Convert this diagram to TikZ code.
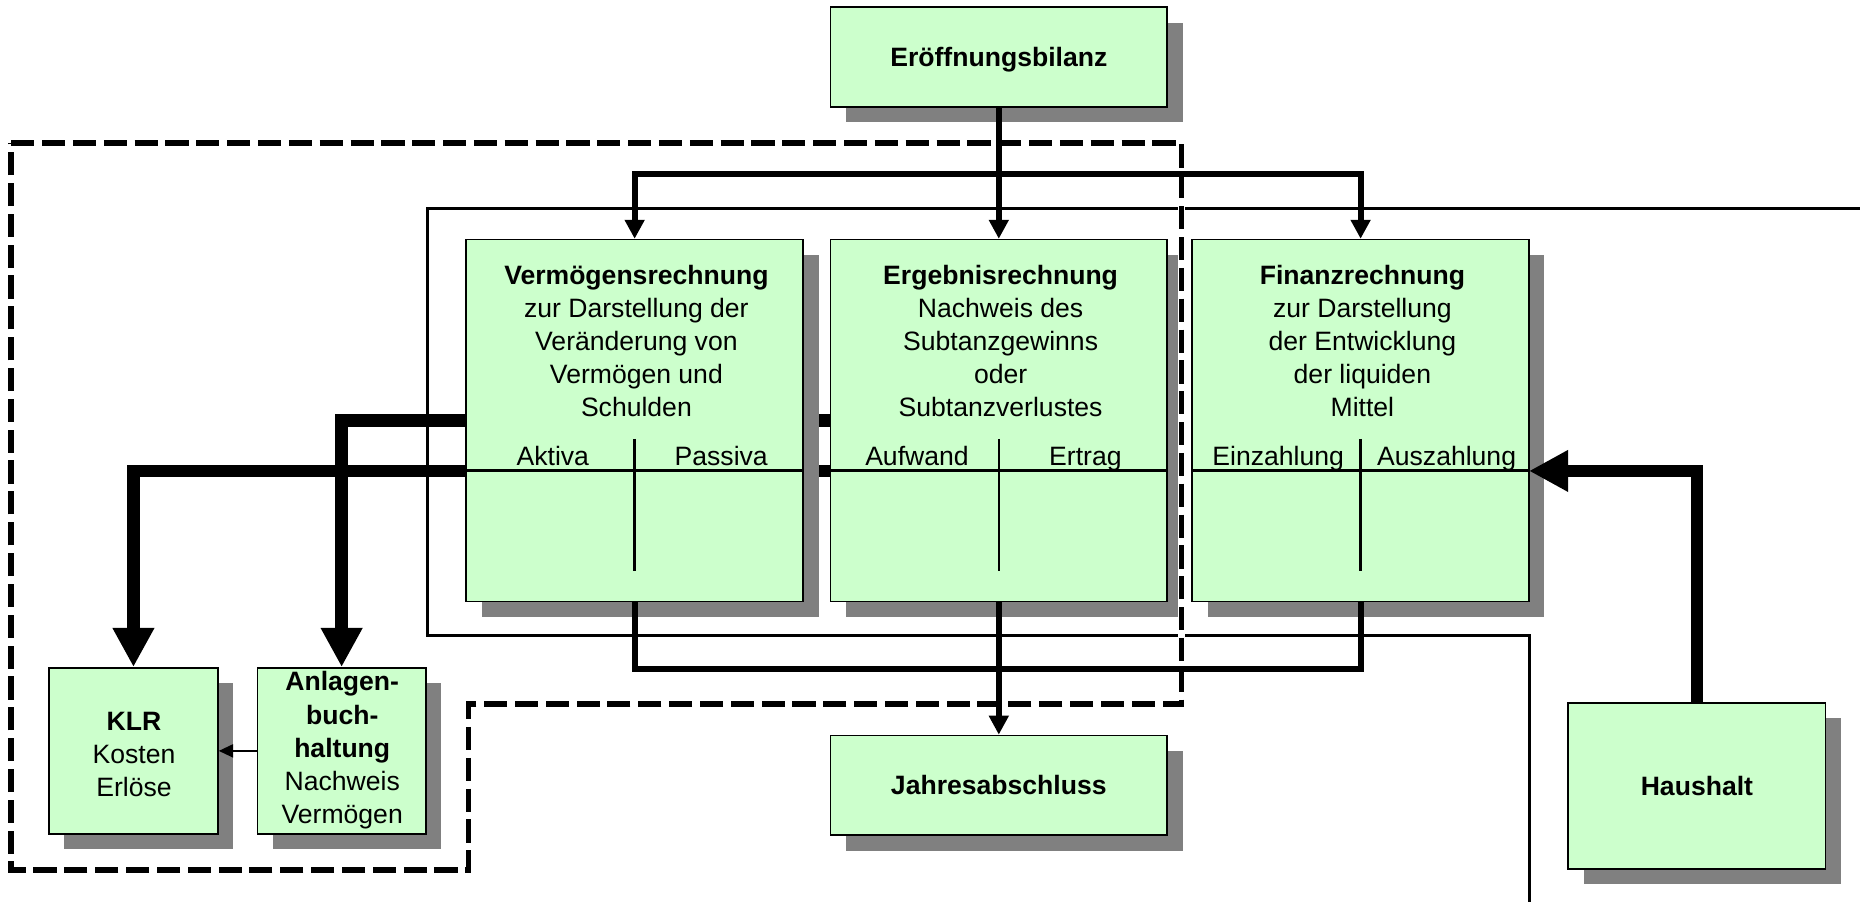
\documentclass[tikz,border=0pt]{standalone}
\usepackage{fontspec}
\setmainfont{Liberation Sans}
\usetikzlibrary{arrows.meta,shadows,backgrounds}
\definecolor{boxgreen}{HTML}{CCFFCC}
\definecolor{shadowgray}{HTML}{808080}
\newcommand{\firststrut}{\rule{0pt}{16pt}}
\begin{document}
\begin{tikzpicture}[x=1pt,y=-1pt,
  box/.style={draw, line width=1.4pt, fill=boxgreen, inner sep=0pt,
    drop shadow={shadow xshift=13pt,shadow yshift=-13pt,fill=shadowgray,opacity=1}},
  boxtxt/.style={font=\fontsize{22.4}{28}\selectfont\bfseries, text height=16pt, text depth=0pt},
  txt/.style={inner sep=0pt, align=center, font=\fontsize{22.4}{28}\selectfont, anchor=north},
  lbl/.style={inner sep=0pt, font=\fontsize{22.4}{28}\selectfont, anchor=base},
  med/.style={line width=5pt},
  fat/.style={line width=10.5pt},
  smalltip/.style={-{Triangle[length=16pt,width=16pt]}},
  bigtip/.style={-{Triangle[length=33pt,width=33pt]}},
  minitip/.style={-{Triangle[length=12pt,width=11pt]}},
  dashline/.style={line width=4.8pt, dash pattern=on 19.5pt off 6.5pt,
    preaction={draw=white, solid, line width=5.2pt}},
  tline/.style={line width=2.6pt},
  divline/.style={line width=2.2pt},
  frameline/.style={line width=2.6pt}]
\useasboundingbox (0,0) rectangle (1568,760);

% boxes
\node[box, boxtxt, minimum width=284pt, minimum height=84pt] (eb) at (842,48) {Eröffnungsbilanz};
\node[box, minimum width=284pt, minimum height=305pt] (vr) at (535,354.5) {};
\node[box, minimum width=284pt, minimum height=305pt] (er) at (842,354.5) {};
\node[box, minimum width=284pt, minimum height=305pt] (fr) at (1147,354.5) {};
\node[box, boxtxt, minimum width=284pt, minimum height=84pt] (ja) at (842,662) {Jahresabschluss};
\node[box, boxtxt, minimum width=217pt, minimum height=140pt] (hh) at (1430.5,662.5) {Haushalt};
\node[box, minimum width=142.5pt, minimum height=140pt] (klr) at (112.5,633) {};
\node[box, minimum width=142pt, minimum height=140pt] (ab) at (288,633) {};

\coordinate (fe) at (1289,397);
\coordinate (jt) at (842,146.5);
\coordinate (jb) at (842,564);

% thick connectors behind the boxes
\begin{scope}[on background layer]
\draw[fat,bigtip] (er.west) -| (ab.north);
\draw[fat,bigtip] (er.west |- fe) -| (klr.north);
\end{scope}

% thin frame
\draw[frameline] (1580,175.5) -- (360,175.5) -- (360,536) -- (1289,536) -- (1289,772);

% dashed frame
\draw[dashline] (9.5,120.3) -- (996,120.3) -- (996,593.3) -- (395,593.3) -- (395,733.5) -- (9.5,733.5) -- cycle;

% connectors
\draw[med,smalltip] (eb.south) -- (er.north);
\draw[med,smalltip] (jt) -| (vr.north);
\draw[med,smalltip] (jt) -| (fr.north);
\draw[med] (vr.south) -- (vr.south |- jb) -- (fr.south |- jb) -- (fr.south);
\draw[med,smalltip] (er.south) -- (ja.north);
\draw[fat,bigtip] (hh.north) |- (fe);
\draw[line width=1.4pt,minitip] (ab.west) -- (klr.east);

% table lines
\foreach \b in {vr,er,fr}{
  \draw[tline] (\b.west |- fe) -- (\b.east |- fe);
  \draw[divline] (\b.center |- 0,370) -- (\b.center |- 0,481);
}

% texts
\node[txt] (vrt) at (536.5,223) {\firststrut\textbf{Vermögensrechnung}\\zur Darstellung der\\Veränderung von\\Vermögen und\\Schulden};
\node[txt] (ert) at (843.5,223) {\firststrut\textbf{Ergebnisrechnung}\\Nachweis des\\Subtanzgewinns\\oder\\Subtanzverlustes};
\node[txt] (frt) at (1148.5,223) {\firststrut\textbf{Finanzrechnung}\\zur Darstellung\\der Entwicklung\\der liquiden\\Mittel};
\node[lbl] (l1) at (466,392) {Aktiva};
\node[lbl] (l2) at (608,392) {Passiva};
\node[lbl] (l3) at (773,392) {Aufwand};
\node[lbl] (l4) at (915,392) {Ertrag};
\node[lbl] (l5) at (1077.5,392) {Einzahlung};
\node[lbl] (l6) at (1219.5,392) {Auszahlung};
\node[txt] (klrt) at (113,599.5) {\firststrut\textbf{KLR}\\Kosten\\Erlöse};
\node[txt] (abt) at (288.5,566) {\firststrut\textbf{Anlagen-}\\\textbf{buch-}\\\textbf{haltung}\\Nachweis\\Vermögen};
\end{tikzpicture}
\end{document}
